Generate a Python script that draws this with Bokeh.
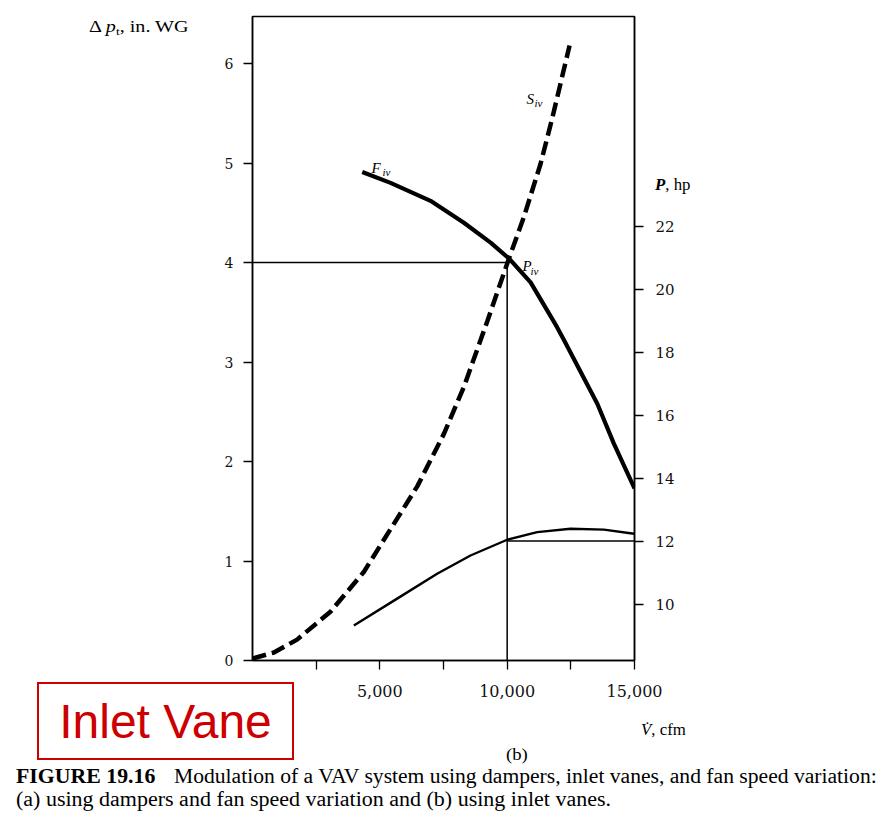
from bokeh.plotting import figure
from bokeh.models import Range1d, LinearAxis, FixedTicker, Label, Div
from bokeh.layouts import column
from bokeh.embed import file_html
from bokeh.resources import INLINE

# ---------------- data ----------------
# System curve S_iv (dashed): flow (cfm) vs total pressure (in. WG)
sys_flow = [0, 840, 1750, 3060, 4370, 5420, 6470, 7520, 8300, 9220, 10070, 10660, 11310, 11770, 12450]
sys_dp = [0.02, 0.08, 0.21, 0.49, 0.89, 1.32, 1.75, 2.28, 2.75, 3.41, 4.04, 4.46, 4.99, 5.45, 6.18]

# Fan curve F_iv with inlet vanes
fan_flow = [4310, 5420, 6990, 8300, 9350, 10070, 10920, 11960, 12230, 13540, 14190, 15000]
fan_dp = [4.91, 4.80, 4.62, 4.40, 4.20, 4.04, 3.80, 3.35, 3.22, 2.58, 2.18, 1.73]

# Fan power (hp, right axis)
pow_flow = [3980, 5680, 7250, 8560, 10000, 11180, 12490, 13800, 14980]
pow_hp = [9.32, 10.17, 10.96, 11.54, 12.04, 12.28, 12.39, 12.36, 12.23]

# Operating point P_iv
op_flow = 10000
op_dp = 4.0
op_hp = 12.0
max_flow = 15000

dp_ticks = [0, 1, 2, 3, 4, 5, 6]
flow_ticks = [2500, 5000, 7500, 10000, 12500, 15000]
flow_labels = {2500: "", 5000: "5,000", 7500: "", 10000: "10,000", 12500: "", 15000: "15,000"}
hp_ticks = [10, 12, 14, 16, 18, 20, 22]

# ---------------- layout ----------------
W, H = 883, 820
FL, FR, FT, FB = 252, 634, 16, 660
YTOP = (FB - FT) / 99.5
HP_BOT = 12 - (FB - 540.5) / 31.5
HP_TOP = 12 + (540.5 - FT) / 31.5

p = figure(width=W, height=H, output_backend="svg", toolbar_location=None,
           x_range=Range1d(0, max_flow), y_range=Range1d(0, YTOP),
           min_border_left=FL, min_border_right=W - FR,
           min_border_top=FT, min_border_bottom=H - FB)
p.extra_y_ranges = {"hp": Range1d(HP_BOT, HP_TOP)}
p.background_fill_color = "white"
p.border_fill_color = "white"
p.outline_line_color = "black"
p.outline_line_width = 1.5
p.xgrid.visible = False
p.ygrid.visible = False

def style_axis(ax, standoff, font, size):
    ax.axis_line_color = "black"
    ax.axis_line_width = 1.5
    ax.major_tick_line_color = "black"
    ax.major_tick_line_width = 1.3
    ax.major_tick_in = 0
    ax.major_tick_out = 9
    ax.minor_tick_line_color = None
    ax.major_label_text_font = font
    ax.major_label_text_font_size = size
    ax.major_label_text_color = "#111111"
    ax.major_label_standoff = standoff

p.yaxis.ticker = FixedTicker(ticks=dp_ticks)
style_axis(p.yaxis[0], 10, "DejaVu Serif", "14px")
p.xaxis.ticker = FixedTicker(ticks=flow_ticks)
p.xaxis.major_label_overrides = flow_labels
style_axis(p.xaxis[0], 15, "DejaVu Serif", "16px")

rax = LinearAxis(y_range_name="hp", ticker=FixedTicker(ticks=hp_ticks))
style_axis(rax, 12, "DejaVu Serif", "15px")
p.add_layout(rax, "right")

# ---------------- marks ----------------
p.line([0, op_flow], [op_dp, op_dp], line_color="black", line_width=1.5)
p.line([op_flow, op_flow], [0, op_dp], line_color="black", line_width=1.5)
p.line([op_flow, max_flow], [op_hp, op_hp], line_color="black", line_width=1.5, y_range_name="hp")

p.line(sys_flow, sys_dp, line_color="black", line_width=4.5, line_dash="14 6", line_cap="butt")
p.line(fan_flow, fan_dp, line_color="black", line_width=4.2, line_join="round")
p.line(pow_flow, pow_hp, line_color="black", line_width=2.4, y_range_name="hp", line_join="round")

# ---------------- in-frame labels ----------------
SERIF = "Liberation Serif"

def X(px):
    return (px - FL) / (FR - FL) * max_flow

def Y(py):
    return (FB - py) / (FB - FT) * YTOP

def lab(txt, px, py, size, style="italic"):
    p.add_layout(Label(x=X(px), y=Y(py), text=txt, text_font=SERIF,
                       text_font_size=f"{size}px", text_font_style=style,
                       text_align="left", text_baseline="alphabetic", text_color="black"))

lab("F", 371, 167, 15)
lab("iv", 382, 171, 11)
lab("S", 526, 98, 15)
lab("iv", 534, 102, 11)
lab("P", 522, 265, 15)
lab("iv", 530, 270, 11)

# ---------------- texts outside the frame (HTML overlay) ----------------
def txt(html, left, baseline, size, font="'Liberation Serif'", sx=1.0, extra=""):
    top = baseline - 0.84 * size
    return (f'<div style="position:absolute;left:{left}px;top:{top:.1f}px;'
            f'font-family:{font};font-size:{size}px;line-height:1;white-space:nowrap;'
            f'color:#000;transform:scaleX({sx});transform-origin:left;{extra}">{html}</div>')

parts = [
    txt('\u0394 <i>p</i><sub style="font-size:11px;vertical-align:-3px">t</sub>, in. WG', 89, 33, 16.5, sx=1.22),
    txt('<b><i>P</i></b>, hp', 655, 190, 16, sx=1.05),
    txt('<i>V\u0307</i>, cfm', 641, 735, 16, sx=1.05),
    txt('(b)', 506, 760, 17, sx=1.1),
    txt('<b>FIGURE 19.16</b>', 16, 783, 20, sx=1.09),
    txt('Modulation of a VAV system using dampers, inlet vanes, and fan speed variation:', 174, 783, 20, sx=1.08),
    txt('(a) using dampers and fan speed variation and (b) using inlet vanes.', 16, 806, 20, sx=1.10),
    ('<div style="position:absolute;left:37px;top:682px;width:257px;height:78px;'
     'box-sizing:border-box;border:2px solid #cc0000;"></div>'),
    ('<div style="position:absolute;left:37px;top:698px;width:257px;text-align:center;'
     "font-family:'Liberation Sans';font-size:48px;line-height:1;color:#cc0000;white-space:nowrap\">Inlet Vane</div>"),
]

overlay = Div(text="".join(parts), width=W, height=H, margin=(0, 0, 0, 0),
              styles={"position": "absolute", "left": "0px", "top": "0px",
                      "pointer-events": "none"})

layout = column(p, overlay, margin=(0, 0, 0, 0))
open("out.html", "w").write(file_html(layout, INLINE))
